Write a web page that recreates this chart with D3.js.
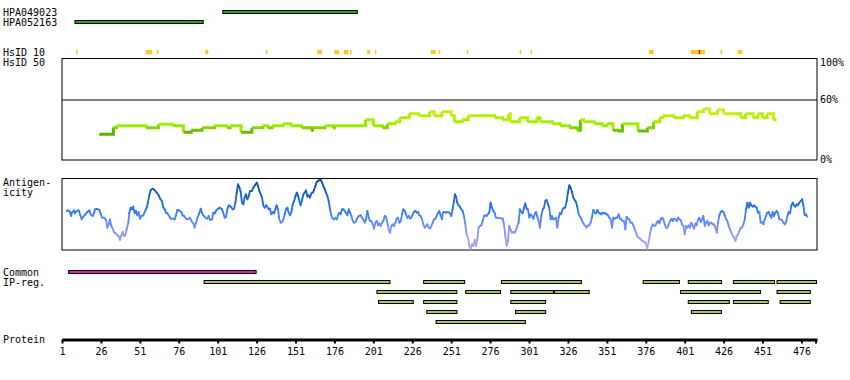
<!DOCTYPE html>
<html>
<head>
<meta charset="utf-8">
<script src="https://cdn.jsdelivr.net/npm/d3@7"></script>
<style>
  body { margin: 0; background: #fff; }
  text { font-family: "DejaVu Sans Mono", monospace; font-size: 10px; fill: #000; }
</style>
</head>
<body>
<div class="chart"></div>
<script>
var proteinLength = 486;
var tickResidues = [1, 26, 51, 76, 101, 126, 151, 176, 201, 226, 251, 276, 301, 326, 351, 376, 401, 426, 451, 476];

var antibodyNames = ["HPA049023", "HPA052163"];
var antibodyRanges = [[104, 191], [9, 92]];

// HsID 10 hits (residue ranges), the red one is the single exact hit
var hsid10 = [[10, 10], [55, 58], [62, 62], [93, 94], [132, 132], [165, 167], [176, 178], [182, 184], [186, 186],
    [197, 198], [202, 202], [238, 240], [243, 243], [261, 261], [295, 295], [302, 302], [378, 380],
    [405, 409], [411, 413], [424, 424], [435, 437]];
var hsid10Red = [[410, 410]];

// HsID 50 identity (%), [start residue, value], step line
var hsid50 = [[25, 25.4], [34, 32], [36, 33.7], [55, 31.7], [63, 35.3], [72, 33.7], [79, 27.4], [84, 29.4],
    [91, 31.7], [99, 33.7], [107, 31.7], [109, 33.7], [116, 27.4], [123, 31.7], [130, 33.7], [133, 31.7],
    [136, 33.7], [143, 35.6], [148, 33.7], [155, 31.7], [161, 29.4], [162, 31.7], [170, 33.7], [175, 31.7],
    [176, 33.7], [196, 39.6], [201, 33.7], [207, 31.7], [210, 35.6], [215, 37.6], [218, 41.6], [224, 45.5],
    [230, 43.6], [237, 47.5], [240, 43.6], [245, 47.5], [251, 43.6], [253, 37.6], [258, 39.6], [262, 43.6],
    [279, 41.6], [284, 39.6], [288, 45.5], [289, 37.6], [295, 41.6], [300, 37.6], [306, 41.6], [308, 37.6],
    [316, 35.6], [321, 33.7], [327, 31.7], [332, 29.4], [334, 39.6], [336, 37.6], [343, 35.6], [348, 33.7],
    [351, 35.6], [355, 29.4], [358, 28.5], [361, 35.6], [371, 28.5], [377, 31.7], [381, 37.6], [385, 41.6],
    [387, 43.6], [394, 41.6], [400, 43.6], [404, 41.6], [409, 47.5], [413, 50.5], [417, 45.5], [422, 49.5],
    [426, 45.5], [437, 41.6], [440, 45.5], [445, 41.6], [448, 45.5], [451, 41.6], [454, 45.5], [458, 39.6],
    [460, 39.6]];

// antigenicity, [residue, score 0-100 of the panel height]
var antigenicity = [
    [4.0, 54.6], [5.1, 55.5], [6.1, 53.2], [6.8, 47.6], [7.4, 52.2], [8.7, 55.5], [9.3, 51.3], [10.4, 54.6],
    [11.7, 55.5], [12.6, 49.9], [13.6, 42.9], [14.7, 46.6], [16.0, 49.9], [17.3, 53.2], [18.6, 55.5], [19.4, 49.9],
    [20.7, 47.6], [21.6, 51.3], [22.2, 56.9], [23.7, 57.4], [25.0, 56.0], [25.8, 51.3], [26.7, 45.2], [28.0, 45.2],
    [29.3, 42.0], [30.1, 31.3], [31.0, 35.9], [31.8, 42.9], [32.7, 33.6], [33.5, 30.3], [34.6, 24.3], [35.7, 23.3],
    [36.5, 20.5], [37.4, 19.6], [38.3, 14.0], [39.1, 20.5], [40.0, 25.2], [40.8, 19.6], [41.7, 20.5], [42.5, 28.9],
    [43.6, 38.2], [44.2, 51.3], [45.1, 59.2], [46.0, 56.9], [46.8, 60.6], [47.7, 51.3], [48.5, 54.6], [49.4, 48.5],
    [50.2, 53.2], [51.1, 43.8], [52.0, 47.6], [53.2, 48.5], [54.5, 54.6], [55.4, 59.2], [56.2, 66.2], [57.1, 76.5],
    [58.0, 83.9], [59.2, 85.8], [60.5, 83.9], [61.8, 80.2], [63.1, 76.5], [64.0, 71.8], [65.2, 68.5], [66.1, 59.2],
    [67.0, 56.9], [67.8, 52.2], [68.7, 51.3], [69.5, 48.5], [70.8, 43.8], [72.1, 43.8], [73.4, 42.9], [74.2, 48.5],
    [75.1, 56.0], [76.4, 55.0], [77.7, 53.2], [78.5, 48.5], [79.4, 47.6], [80.7, 43.8], [82.0, 42.9], [83.2, 45.2],
    [84.5, 39.2], [85.4, 37.3], [86.2, 31.3], [87.1, 38.2], [88.0, 45.2], [89.2, 51.3], [90.1, 57.8], [91.0, 51.3],
    [91.8, 48.5], [93.1, 45.2], [94.4, 43.8], [95.2, 47.6], [96.1, 42.0], [97.4, 42.9], [98.2, 52.2], [99.1, 51.3],
    [99.9, 54.6], [101.2, 57.8], [102.5, 59.2], [103.8, 56.9], [104.6, 52.2], [105.5, 45.2], [106.4, 46.6], [107.2, 56.9],
    [108.1, 62.5], [109.4, 60.6], [110.6, 56.9], [111.5, 57.8], [112.4, 66.2], [113.2, 80.2], [114.1, 91.9], [115.0, 87.2],
    [115.8, 81.1], [116.6, 66.2], [117.5, 63.9], [118.3, 73.2], [119.2, 77.9], [120.1, 70.9], [120.9, 75.5], [121.8, 82.5],
    [122.9, 82.5], [123.9, 87.2], [125.0, 90.5], [126.1, 94.2], [126.9, 89.5], [127.8, 82.5], [128.7, 77.9], [129.5, 73.2],
    [130.4, 61.6], [131.2, 59.2], [132.1, 62.5], [132.9, 60.6], [133.8, 56.9], [134.6, 57.8], [135.5, 49.9], [136.4, 53.2],
    [137.2, 51.3], [138.1, 56.9], [138.9, 62.5], [139.8, 56.9], [140.6, 42.9], [141.5, 38.2], [142.4, 39.2], [143.2, 42.9],
    [144.1, 49.9], [144.9, 56.9], [145.8, 59.2], [146.6, 52.2], [147.5, 48.5], [148.4, 53.2], [149.2, 63.9], [150.1, 68.5],
    [150.9, 74.6], [151.8, 80.2], [152.6, 76.5], [153.5, 68.5], [154.3, 62.5], [155.2, 69.9], [156.1, 77.9], [156.9, 80.2],
    [157.8, 83.5], [158.6, 74.6], [159.5, 76.5], [160.3, 73.2], [161.2, 79.3], [162.1, 80.2], [162.9, 83.9], [163.8, 89.5],
    [164.6, 95.1], [165.5, 96.5], [166.3, 97.9], [167.2, 97.9], [168.1, 94.2], [168.9, 89.5], [169.8, 84.9], [170.6, 80.2],
    [171.5, 75.5], [172.3, 68.5], [173.2, 56.9], [174.1, 47.6], [174.9, 43.8], [175.8, 42.9], [176.6, 45.2], [177.5, 42.9],
    [178.3, 48.5], [179.2, 52.2], [180.0, 49.9], [180.9, 56.9], [181.8, 56.9], [182.6, 54.6], [183.5, 51.3], [184.3, 48.5],
    [185.2, 56.9], [186.0, 52.2], [186.9, 47.6], [187.8, 40.6], [188.6, 38.2], [189.5, 39.2], [190.3, 42.9], [191.6, 47.6],
    [192.9, 48.5], [193.7, 45.2], [194.6, 42.9], [195.5, 38.2], [196.3, 42.9], [197.2, 54.6], [198.0, 45.2], [198.9, 40.6],
    [199.7, 40.6], [200.6, 35.9], [201.5, 29.9], [202.3, 38.2], [203.2, 40.6], [204.0, 34.5], [204.9, 37.3], [205.7, 33.6],
    [206.6, 38.2], [207.5, 40.6], [208.3, 47.6], [209.2, 46.6], [210.0, 38.2], [210.9, 28.9], [211.7, 24.3], [212.6, 33.6],
    [213.4, 35.9], [214.3, 33.6], [215.2, 38.2], [216.0, 43.8], [216.9, 45.2], [217.7, 38.2], [218.6, 40.6], [219.4, 49.9],
    [220.3, 56.9], [221.2, 54.6], [222.0, 49.9], [222.9, 45.2], [223.7, 47.6], [224.6, 43.8], [225.4, 45.2], [226.3, 49.9],
    [227.1, 53.2], [228.0, 54.6], [228.9, 52.2], [229.7, 53.2], [230.6, 48.5], [231.4, 47.6], [232.3, 42.9], [233.1, 35.9],
    [234.0, 31.3], [234.9, 33.6], [235.7, 35.9], [236.6, 31.3], [237.4, 29.9], [238.3, 33.6], [239.1, 38.2], [240.0, 42.9],
    [240.9, 43.8], [241.7, 47.6], [242.6, 52.2], [243.4, 54.6], [244.3, 47.6], [245.1, 42.9], [245.5, 51.3], [246.4, 53.2],
    [247.7, 52.2], [248.9, 53.2], [250.2, 51.3], [251.1, 47.6], [251.9, 56.9], [252.8, 68.5], [253.4, 77.9], [254.1, 74.6],
    [254.9, 66.2], [255.8, 62.5], [256.6, 60.6], [257.5, 56.9], [258.4, 54.6], [259.2, 47.6], [260.1, 35.9], [260.9, 21.9],
    [261.8, 17.3], [262.6, 6.6], [263.5, 1.9], [264.4, 8.0], [265.2, 5.6], [266.1, 14.0], [266.9, 5.6], [267.8, 15.0],
    [268.6, 31.3], [269.5, 33.6], [270.4, 34.5], [271.2, 40.6], [272.1, 47.6], [272.9, 48.5], [273.8, 47.6], [274.6, 49.9],
    [275.5, 52.2], [276.3, 66.2], [277.2, 59.2], [278.1, 54.6], [278.9, 52.2], [279.8, 45.2], [284.1, 43.8], [284.9, 35.9],
    [285.8, 19.6], [286.6, 5.6], [287.5, 12.6], [288.3, 33.6], [289.2, 28.0], [290.1, 24.3], [290.9, 25.2], [291.8, 24.3],
    [292.6, 28.0], [293.5, 33.6], [294.3, 38.2], [295.2, 56.9], [296.0, 53.2], [296.9, 51.3], [297.8, 59.2], [298.6, 65.3],
    [299.5, 57.8], [300.3, 56.9], [301.2, 45.2], [302.0, 49.9], [302.9, 47.6], [303.8, 43.8], [304.6, 49.9], [305.5, 53.2],
    [306.3, 46.6], [307.2, 40.6], [308.0, 31.3], [308.9, 47.6], [309.8, 56.9], [310.6, 59.2], [311.5, 68.5], [312.3, 69.9],
    [313.2, 63.9], [314.0, 59.2], [314.9, 42.9], [315.7, 47.6], [316.6, 42.9], [317.5, 43.8], [318.3, 45.2], [319.2, 31.3],
    [320.0, 45.2], [320.9, 52.2], [321.7, 49.9], [322.6, 56.9], [323.5, 59.2], [324.3, 59.2], [325.2, 68.5], [326.0, 80.2],
    [326.9, 90.5], [327.7, 87.2], [328.6, 81.1], [329.5, 73.2], [330.3, 69.9], [331.2, 67.2], [332.0, 60.6], [332.9, 49.9],
    [333.7, 46.6], [334.6, 43.8], [335.4, 39.2], [336.3, 35.9], [337.2, 33.6], [338.0, 31.3], [338.9, 34.5], [339.7, 34.5],
    [340.6, 38.2], [341.4, 45.2], [342.3, 56.0], [343.2, 52.2], [344.0, 51.3], [344.9, 56.0], [345.7, 52.2], [346.6, 51.3],
    [347.4, 49.9], [348.3, 52.2], [349.2, 51.3], [350.0, 51.3], [350.9, 49.9], [351.7, 48.5], [352.6, 45.2], [353.4, 42.9],
    [354.3, 31.3], [355.1, 45.2], [356.0, 43.8], [356.9, 45.2], [357.7, 45.2], [358.6, 49.9], [359.4, 43.8], [360.3, 42.9],
    [361.1, 40.6], [362.0, 40.6], [362.9, 28.9], [363.7, 46.6], [364.6, 43.8], [365.4, 42.9], [366.3, 38.2], [367.2, 38.2],
    [368.0, 34.5], [368.9, 28.9], [369.8, 24.3], [370.6, 18.7], [371.5, 17.3], [372.3, 15.9], [373.2, 14.0], [374.0, 12.6],
    [374.9, 11.2], [375.8, 10.3], [376.6, 5.6], [377.0, 1.9], [377.9, 12.6], [378.7, 21.9], [379.6, 31.3], [380.5, 35.9],
    [381.3, 33.6], [382.2, 34.5], [383.0, 38.2], [383.9, 40.6], [384.7, 37.3], [385.6, 42.9], [386.5, 45.2], [387.3, 42.9],
    [388.2, 35.9], [389.0, 31.3], [389.9, 31.3], [390.7, 35.9], [391.6, 40.6], [392.5, 43.8], [393.3, 40.6], [394.2, 43.8],
    [395.0, 42.9], [395.9, 40.6], [396.7, 45.2], [397.6, 42.9], [398.4, 42.0], [399.3, 35.9], [400.2, 33.6], [401.0, 21.9],
    [401.9, 33.6], [402.7, 31.3], [403.6, 34.5], [404.4, 31.3], [405.3, 38.2], [406.2, 33.6], [407.0, 29.9], [407.9, 37.3],
    [408.7, 34.5], [409.6, 42.9], [410.4, 45.2], [411.3, 39.2], [412.2, 42.9], [413.0, 47.6], [413.9, 33.6], [414.7, 38.2],
    [415.6, 40.6], [416.4, 34.5], [417.3, 38.2], [418.1, 38.2], [419.0, 35.9], [419.9, 35.9], [420.7, 31.3], [421.6, 24.3],
    [422.4, 38.2], [423.3, 48.5], [424.1, 53.2], [425.0, 54.6], [425.9, 53.2], [426.7, 48.5], [427.6, 42.9], [428.4, 40.6],
    [429.3, 33.6], [430.1, 28.9], [431.0, 24.3], [431.9, 19.6], [432.7, 17.3], [433.6, 12.6], [434.4, 19.6], [435.3, 21.9],
    [436.1, 26.6], [437.0, 31.3], [437.8, 31.3], [438.7, 35.9], [439.6, 42.9], [440.4, 56.9], [441.3, 66.2], [442.1, 59.2],
    [443.0, 66.2], [443.8, 62.5], [444.7, 60.6], [445.6, 62.5], [446.4, 60.6], [447.3, 59.2], [448.1, 52.2], [449.0, 53.2],
    [449.8, 38.2], [450.7, 39.2], [451.6, 35.9], [452.4, 42.9], [453.3, 47.6], [454.1, 52.2], [455.0, 53.2], [455.8, 48.5],
    [456.7, 45.2], [457.5, 53.2], [458.4, 47.6], [459.3, 52.2], [460.1, 54.6], [461.0, 51.3], [461.8, 42.9], [462.7, 42.9],
    [463.5, 42.0], [464.4, 38.2], [465.3, 35.9], [466.1, 39.2], [467.0, 47.6], [467.8, 53.2], [468.7, 51.3], [469.5, 61.6],
    [470.4, 66.2], [471.3, 62.5], [472.1, 60.6], [473.0, 63.9], [473.8, 62.5], [474.7, 66.2], [475.5, 68.5], [476.4, 70.9],
    [477.3, 61.6], [478.1, 48.5], [479.0, 49.9], [479.8, 46.6]];

var commonRegion = [5, 126];
// IP-reg segments, one list per row
var ipRow1 = [[92, 212], [233, 260], [283, 335], [374, 398], [403, 425], [432, 459], [460, 486]];
var ipRow2 = [[203, 255], [260, 283], [289, 317], [317, 340], [398, 450], [460, 482]];
var ipRow3 = [[204, 227], [233, 255], [289, 312], [403, 430], [432, 455], [462, 482]];
var ipRow4 = [[235, 255], [292, 312], [405, 425]];
var ipRow5 = [[241, 299]];

var svg = d3.select(".chart").append("svg")
    .attr("width", 850).attr("height", 380);

var x = d3.scaleLinear().domain([1, proteinLength]).range([62, 817]);

// left labels
var labels = [["HPA049023", 16], ["HPA052163", 26], ["HsID 10", 56], ["HsID 50", 66],
    ["Antigen-", 186], ["icity", 196], ["Common", 276], ["IP-reg.", 286], ["Protein", 343]];
svg.append("g").selectAll("text").data(labels).enter().append("text")
    .attr("x", 3).attr("y", function (d) { return d[1]; })
    .text(function (d) { return d[0]; });

// antibodies
svg.append("g").selectAll("rect").data(antibodyRanges).enter().append("rect")
    .attr("x", function (d) { return x(d[0]) + 0.5; })
    .attr("y", function (d, i) { return 10.5 + i * 10; })
    .attr("width", function (d) { return x(d[1]) - x(d[0]) - 1; })
    .attr("height", 3)
    .attr("fill", "#2ea41e").attr("stroke", "#000").attr("stroke-width", 1);

// HsID 10 hits
svg.append("g").selectAll("rect").data(hsid10).enter().append("rect")
    .attr("x", function (d) { return x(d[0]); })
    .attr("y", 50)
    .attr("width", function (d) { return x(d[1] + 1) - x(d[0]); })
    .attr("height", 4.3)
    .attr("fill", "#ffc81e");
svg.append("g").selectAll("rect").data(hsid10Red).enter().append("rect")
    .attr("x", function (d) { return x(d[0]); })
    .attr("y", 50)
    .attr("width", function (d) { return x(d[1] + 1) - x(d[0]); })
    .attr("height", 4.3)
    .attr("fill", "#e00000");

// HsID 50 panel
var yH = d3.scaleLinear().domain([0, 100]).range([160, 58.5]);
var hsPanel = svg.append("g");
hsPanel.append("rect").attr("x", 62).attr("y", 58.5).attr("width", 755).attr("height", 101.5)
    .attr("fill", "none").attr("stroke", "#000").attr("stroke-width", 1);
hsPanel.append("line").attr("x1", 62).attr("x2", 817).attr("y1", 100).attr("y2", 100)
    .attr("stroke", "#000").attr("stroke-width", 1);
var pctLabels = [["100%", 65.5], ["60%", 103.3], ["0%", 163.3]];
hsPanel.selectAll("text").data(pctLabels).enter().append("text")
    .attr("x", 820).attr("y", function (d) { return d[1]; })
    .text(function (d) { return d[0]; });

var hsColor = d3.scaleLinear().domain([25, 30, 34, 42, 50])
    .range(["#5aae00", "#70c400", "#9cee00", "#b4ee00", "#ccee22"]);
var hsSteps = d3.pairs(hsid50);
hsPanel.append("g").selectAll("path").data(hsSteps).enter().append("path")
    .attr("fill", "none")
    .attr("stroke", function (d) { return hsColor(d[0][1]); })
    .attr("stroke-width", 3)
    .attr("d", function (d) {
        return "M" + x(d[0][0]) + "," + yH(d[0][1]) + "H" + x(d[1][0]) + "V" + yH(d[1][1]);
    });

// antigenicity panel
var yA = d3.scaleLinear().domain([0, 100]).range([250, 178.5]);
var agPanel = svg.append("g");
agPanel.append("rect").attr("x", 62).attr("y", 178.5).attr("width", 755).attr("height", 71.5)
    .attr("fill", "none").attr("stroke", "#000").attr("stroke-width", 1);
var agColor = d3.scaleLinear().domain([0, 25, 45, 60, 100])
    .range(["#b8a8f0", "#8c92f8", "#4a86f8", "#2070f0", "#0848b0"]);
agPanel.append("g").selectAll("path").data(d3.pairs(antigenicity)).enter().append("path")
    .attr("fill", "none")
    .attr("stroke", function (d) { return agColor((d[0][1] + d[1][1]) / 2); })
    .attr("stroke-width", 1.8)
    .attr("stroke-linecap", "round")
    .attr("d", function (d) {
        return "M" + x(d[0][0]) + "," + yA(d[0][1]) + "L" + x(d[1][0]) + "," + yA(d[1][1]);
    });

// common + IP-reg bars
svg.append("rect")
    .attr("x", x(commonRegion[0]) + 0.5).attr("y", 270.5)
    .attr("width", x(commonRegion[1]) - x(commonRegion[0]) - 1).attr("height", 3)
    .attr("fill", "#cc2ea8").attr("stroke", "#000").attr("stroke-width", 1);

var ipRows = [ipRow1, ipRow2, ipRow3, ipRow4, ipRow5];
ipRows.forEach(function (row, i) {
    svg.append("g").selectAll("rect").data(row).enter().append("rect")
        .attr("x", function (d) { return x(d[0]) + 0.5; })
        .attr("y", 280.5 + i * 10)
        .attr("width", function (d) { return x(d[1]) - x(d[0]) - 1; })
        .attr("height", 3)
        .attr("fill", "#a2c862").attr("stroke", "#000").attr("stroke-width", 1);
});

// protein axis
var axis = svg.append("g").attr("transform", "translate(0,339.5)")
    .call(d3.axisBottom(x).tickValues(tickResidues).tickSize(4).tickSizeOuter(0).tickPadding(4.5));
axis.select(".domain").attr("stroke", "#000").attr("stroke-width", 3);
axis.selectAll(".tick line").attr("stroke", "#000").attr("stroke-width", 2);
axis.selectAll("text").style("font-family", "'DejaVu Sans Mono', monospace").style("font-size", "10px");
axis.append("line").attr("x1", 816).attr("x2", 816).attr("y1", 0).attr("y2", 4)
    .attr("stroke", "#000").attr("stroke-width", 2);
</script>
</body>
</html>
